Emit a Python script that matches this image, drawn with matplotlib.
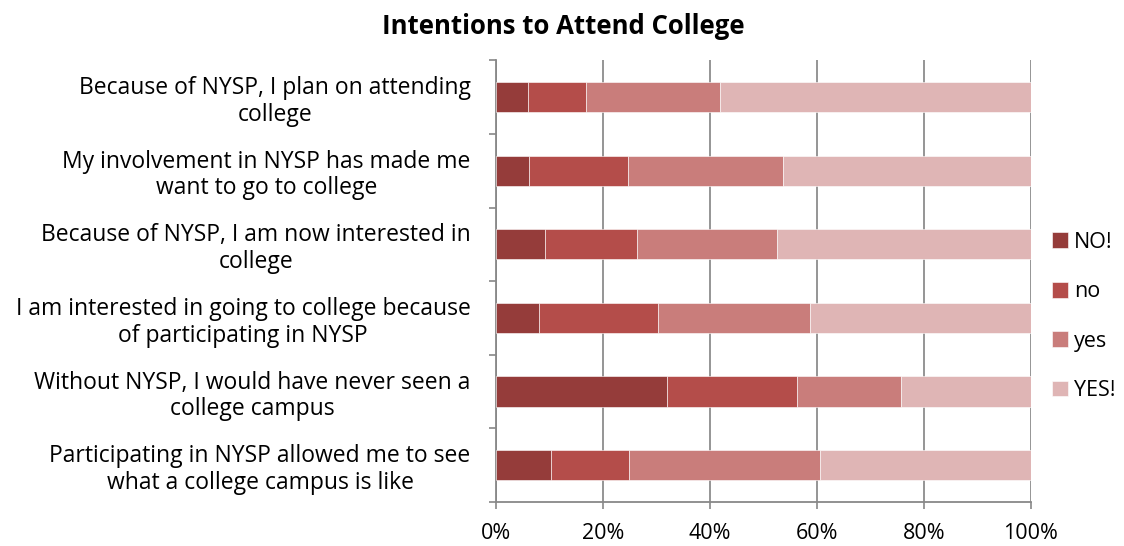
import matplotlib.pyplot as plt
import numpy as np

categories = [
    'Because of NYSP, I plan on attending\ncollege',
    'My involvement in NYSP has made me\nwant to go to college',
    'Because of NYSP, I am now interested in\ncollege',
    'I am interested in going to college because\nof participating in NYSP',
    'Without NYSP, I would have never seen a\ncollege campus',
    'Participating in NYSP allowed me to see\nwhat a college campus is like',
]
series_names = ['NO!', 'no', 'yes', 'YES!']
no_strong = [6.0, 6.2, 9.2, 8.1, 32.1, 10.3]
no_mild = [10.8, 18.6, 17.3, 22.2, 24.2, 14.6]
yes_mild = [25.1, 28.9, 26.1, 28.5, 19.5, 35.8]
yes_strong = [58.1, 46.3, 47.4, 41.2, 24.2, 39.3]
colors = ['#953C3A', '#B44D4A', '#C97D7B', '#DFB5B5']
xticks = [0, 20, 40, 60, 80, 100]

plt.rcParams['font.family'] = ['Open Sans', 'DejaVu Sans']
fig = plt.figure(figsize=(11.24, 5.46), dpi=100)
ax = fig.add_axes([0.441, 0.0806, 0.476, 0.809])

y = np.arange(len(categories))
left = np.zeros(len(categories))
for name, vals, c in zip(series_names, [no_strong, no_mild, yes_mild, yes_strong], colors):
    ax.barh(y, vals, left=left, height=0.41, color=c, label=name,
            edgecolor='white', linewidth=0.4, zorder=3)
    left += np.array(vals)

ax.set_ylim(len(categories) - 0.5, -0.5)
ax.set_xlim(0, 100)
ax.set_xticks(xticks)
ax.set_xticklabels([f'{t}%' for t in xticks], fontsize=15.5)
ax.set_yticks(y)
ax.set_yticklabels(categories, fontsize=16.5, ha='right', multialignment='center',
                   linespacing=1.15)
ax.tick_params(axis='y', length=0, pad=18)
ax.set_yticks(np.arange(-0.5, len(categories)), minor=True)
ax.tick_params(axis='y', which='minor', length=5, color='#888888', width=1.2)
ax.tick_params(axis='x', length=5, color='#888888', width=1.2, pad=10)
ax.grid(axis='x', color='#8c8c8c', linewidth=1.3, zorder=0)
for s in ['top', 'right']:
    ax.spines[s].set_visible(False)
for s in ['left', 'bottom']:
    ax.spines[s].set_color('#888888')
    ax.spines[s].set_linewidth(1.3)

ax.set_title('Intentions to Attend College', fontsize=18.5, fontweight='bold', pad=19, x=0.127)
ax.legend(loc='center left', bbox_to_anchor=(1.003, 0.42), frameon=False, fontsize=15.5,
          handlelength=0.75, handleheight=0.75, handletextpad=0.3, labelspacing=1.32)

fig.savefig('out.png', dpi=100)
